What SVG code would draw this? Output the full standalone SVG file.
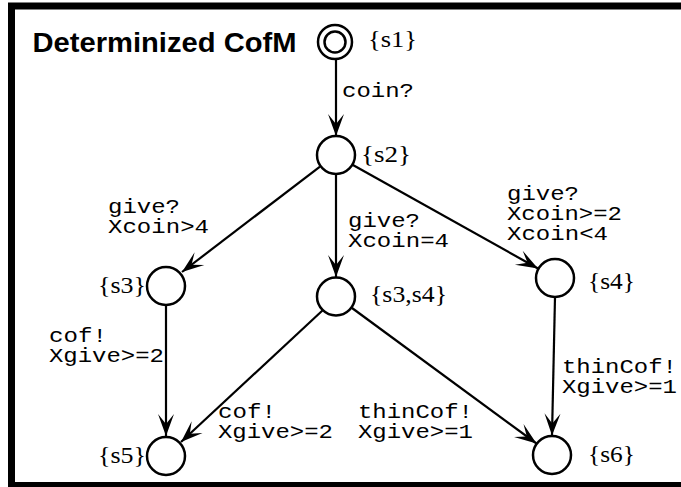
<svg xmlns="http://www.w3.org/2000/svg" width="681" height="487" viewBox="0 0 681 487">
<style>
.st{fill:#fff;stroke:#000;stroke-width:2.5}
.nm{font-family:"Liberation Serif",serif;font-size:24px;fill:#000}
.lb{font-family:"Liberation Mono",monospace;font-size:19.5px;fill:#000}
.ed{stroke:#000;stroke-width:2.2;fill:none;marker-end:url(#ah)}
</style>
<defs>
<marker id="ah" markerUnits="userSpaceOnUse" markerWidth="30" markerHeight="20" viewBox="-24 -10 26 20" refX="0" refY="0" orient="auto">
<path d="M0,0 L-22,-8 L-12,0 L-22,8 Z" fill="#000"/>
</marker>
</defs>
<rect x="0" y="0" width="681" height="487" fill="#fff"/>
<rect x="11.5" y="6" width="680" height="479.5" fill="none" stroke="#000" stroke-width="7"/>
<text x="32.5" y="52" font-family="Liberation Sans, Arial, sans-serif" font-weight="bold" font-size="28.5" textLength="264" lengthAdjust="spacingAndGlyphs">Determinized CofM</text>
<g id="connectors">
<line class="ed" x1="336" y1="60" x2="336" y2="136"/>
<line class="ed" x1="320" y1="166.6" x2="182" y2="272"/>
<line class="ed" x1="336" y1="174" x2="336" y2="277"/>
<line class="ed" x1="351.6" y1="164.3" x2="538" y2="268.5"/>
<line class="ed" x1="166" y1="305" x2="166" y2="436"/>
<line class="ed" x1="323" y1="310" x2="181" y2="442"/>
<line class="ed" x1="352" y1="308" x2="536.5" y2="443.5"/>
<line class="ed" x1="555" y1="297" x2="552" y2="435.5"/>
<text class="lb" x="342" y="97" textLength="72" lengthAdjust="spacingAndGlyphs">coin?</text>
<text class="lb" x="108" y="213" textLength="72" lengthAdjust="spacingAndGlyphs">give?</text>
<text class="lb" x="108" y="233" textLength="101" lengthAdjust="spacingAndGlyphs">Xcoin&gt;4</text>
<text class="lb" x="348" y="227" textLength="72" lengthAdjust="spacingAndGlyphs">give?</text>
<text class="lb" x="348" y="247" textLength="101" lengthAdjust="spacingAndGlyphs">Xcoin=4</text>
<text class="lb" x="507" y="200" textLength="72" lengthAdjust="spacingAndGlyphs">give?</text>
<text class="lb" x="507" y="220" textLength="115" lengthAdjust="spacingAndGlyphs">Xcoin&gt;=2</text>
<text class="lb" x="507" y="240" textLength="101" lengthAdjust="spacingAndGlyphs">Xcoin&lt;4</text>
<text class="lb" x="49" y="342" textLength="58" lengthAdjust="spacingAndGlyphs">cof!</text>
<text class="lb" x="49" y="362" textLength="115" lengthAdjust="spacingAndGlyphs">Xgive&gt;=2</text>
<text class="lb" x="218" y="418" textLength="58" lengthAdjust="spacingAndGlyphs">cof!</text>
<text class="lb" x="218" y="438" textLength="115" lengthAdjust="spacingAndGlyphs">Xgive&gt;=2</text>
<text class="lb" x="358" y="418" textLength="115" lengthAdjust="spacingAndGlyphs">thinCof!</text>
<text class="lb" x="358" y="438" textLength="115" lengthAdjust="spacingAndGlyphs">Xgive&gt;=1</text>
<text class="lb" x="562" y="373" textLength="115" lengthAdjust="spacingAndGlyphs">thinCof!</text>
<text class="lb" x="562" y="393" textLength="115" lengthAdjust="spacingAndGlyphs">Xgive&gt;=1</text>
</g>
<g id="s1">
<circle class="st" cx="335" cy="42" r="17"/>
<circle class="st" cx="335" cy="42" r="10.5"/>
<text class="nm" x="368" y="47" textLength="49" lengthAdjust="spacingAndGlyphs">{s1}</text>
</g>
<g id="s2">
<circle class="st" cx="336" cy="155" r="19"/>
<text class="nm" x="361" y="162" textLength="50" lengthAdjust="spacingAndGlyphs">{s2}</text>
</g>
<g id="s3">
<circle class="st" cx="166" cy="286" r="19"/>
<text class="nm" x="98" y="293" textLength="48" lengthAdjust="spacingAndGlyphs">{s3}</text>
</g>
<g id="s3s4">
<circle class="st" cx="336" cy="296.5" r="19"/>
<text class="nm" x="370" y="302" textLength="77" lengthAdjust="spacingAndGlyphs">{s3,s4}</text>
</g>
<g id="s4">
<circle class="st" cx="555" cy="278" r="19"/>
<text class="nm" x="588" y="289" textLength="47" lengthAdjust="spacingAndGlyphs">{s4}</text>
</g>
<g id="s5">
<circle class="st" cx="166" cy="456" r="19"/>
<text class="nm" x="98" y="463" textLength="48" lengthAdjust="spacingAndGlyphs">{s5}</text>
</g>
<g id="s6">
<circle class="st" cx="552" cy="455" r="19"/>
<text class="nm" x="588" y="462" textLength="47" lengthAdjust="spacingAndGlyphs">{s6}</text>
</g>
</svg>
